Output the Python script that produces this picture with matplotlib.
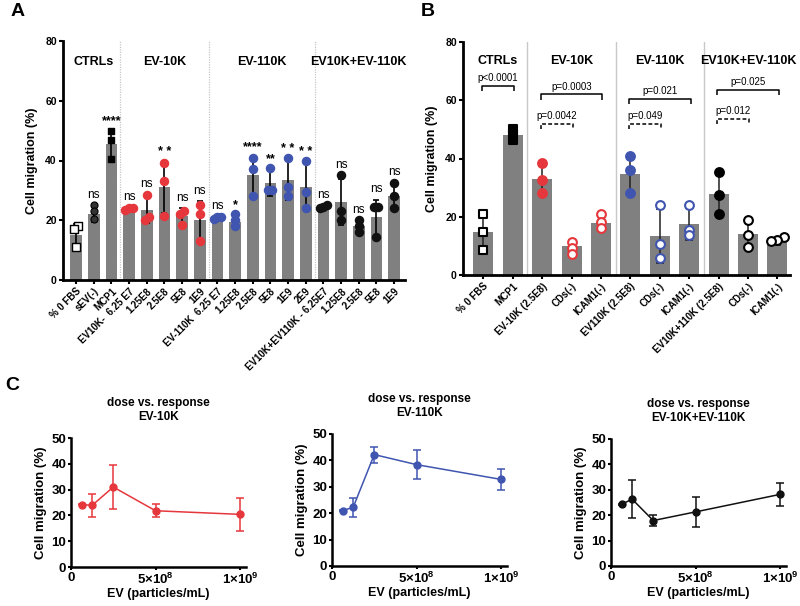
import matplotlib
matplotlib.use("Agg")
import matplotlib.pyplot as plt
import numpy as np

plt.rcParams['font.family'] = ['Liberation Sans', 'DejaVu Sans']
plt.rcParams['font.weight'] = 'bold'
plt.rcParams['axes.labelweight'] = 'bold'
plt.rcParams['mathtext.fontset'] = 'custom'
plt.rcParams['mathtext.rm'] = 'Liberation Sans:bold'
plt.rcParams['mathtext.bf'] = 'Liberation Sans:bold'
plt.rcParams['mathtext.it'] = 'Liberation Sans:bold'

# ---------------- Panel A data ----------------
a_labels = ["% 0 FBS", "sEV(-)", "MCP1", "EV10K-  6.25 E7", "1.25E8", "2.5E8", "5E8", "1E9",
            "EV-110K  6.25 E7", "1.25E8", "2.5E8", "5E8", "1E9", "2E9",
            "EV10K+EV110K - 6.25E7", "1.25E8", "2.5E8", "5E8", "1E9"]
a_means = [15, 22, 45.5, 24, 23.5, 31, 21.5, 20, 21, 19.5, 35, 32.5, 33.5, 31, 24.5, 26, 18, 21, 28]
a_err = [3.8, 2.5, 4.7, 0.3, 4.5, 8.7, 2.6, 6.3, 0.3, 2.0, 6.6, 4.3, 6.8, 8.0, 0.5, 7.7, 2.0, 5.8, 4.3]
a_points = [[18, 17, 11], [25, 23, 20.5], [50, 47, 40.5], [24, 24, 23.5], [28.5, 21, 20],
            [39, 33, 21.5], [23, 22, 18.5], [25, 22, 13], [21, 21, 20.5], [22, 20, 18],
            [41, 37, 28], [37.5, 30, 30], [41, 31, 28], [40, 29.5, 24], [25, 24.5, 24],
            [35, 23, 20], [20, 18, 16], [24.5, 24.5, 14.5], [32.5, 28, 24]]
a_signif = ["", "ns", "****", "ns", "ns", "* *", "ns", "ns", "ns", "*", "****", "**", "* *", "* *",
            "ns", "ns", "ns", "ns", "ns"]
a_groups = ["CTRLs", "EV-10K", "EV-110K", "EV10K+EV-110K"]
a_group_members = [[0, 1, 2], [3, 4, 5, 6, 7], [8, 9, 10, 11, 12, 13], [14, 15, 16, 17, 18]]
a_group_color = ["ctrl", "red", "blue", "black"]

# ---------------- Panel B data ----------------
b_labels = ["% 0 FBS", "MCP1", "EV-10K (2.5E8)", "CDs(-)", "ICAM1(-)", "EV110K (2.5E8)",
            "CDs(-)", "ICAM1(-)", "EV10K+110K (2.5E8)", "CDs(-)", "ICAM1(-)"]
b_means = [14.8, 48, 33, 9.8, 18, 34.8, 13.5, 17.5, 27.8, 14, 11.5]
b_err = [6, 2, 5, 2.2, 2.4, 6.3, 9.3, 5.6, 7.2, 4.6, 1.3]
b_points = [[21, 14.8, 8.6], [50, 48.3, 46.3], [38.5, 32.5, 28.2], [11.3, 9.1, 7.2],
            [20.8, 18.3, 16], [40.8, 36, 28], [24, 10.8, 5.7], [24, 15.4, 13.7],
            [35.4, 27.4, 21.1], [18.8, 13.7, 9.7], [13, 12, 11.6]]
b_groups = ["CTRLs", "EV-10K", "EV-110K", "EV10K+EV-110K"]
b_group_members = [[0, 1], [2, 3, 4], [5, 6, 7], [8, 9, 10]]
b_brackets = [(0, 1, 65, "p<0.0001", "solid"), (2, 4, 62, "p=0.0003", "solid"),
              (2, 3, 52, "p=0.0042", "dashed"), (5, 7, 60.5, "p=0.021", "solid"),
              (5, 6, 52, "p=0.049", "dashed"), (8, 10, 63.5, "p=0.025", "solid"),
              (8, 9, 53.5, "p=0.012", "dashed")]

# ---------------- Panel C data ----------------
c_dose = [6.25e7, 1.25e8, 2.5e8, 5e8, 1e9]
c10_mean = [24.2, 23.9, 31.0, 21.8, 20.4]
c10_err = [0.3, 4.4, 8.7, 2.6, 6.3]
c110_mean = [21.0, 22.2, 42.2, 38.4, 32.8]
c110_err = [0.3, 3.7, 3.0, 5.4, 4.0]
cmix_mean = [24.3, 26.3, 17.9, 21.3, 28.2]
cmix_err = [0.3, 7.4, 2.1, 6.0, 4.5]

RED = "#e5373c"
BLUE = "#3f55b0"
BLACK = "#111111"
BARC = "#808080"
SEP = "#c8c8c8"

W, H = 800, 606
fig = plt.figure(figsize=(8, 6.06), dpi=100)


def ax_px(l, t, r, b):
    return fig.add_axes([l / W, 1 - b / H, (r - l) / W, (b - t) / H])


def style_axes(ax, lw=2.0):
    for s in ["top", "right"]:
        ax.spines[s].set_visible(False)
    for s in ["left", "bottom"]:
        ax.spines[s].set_linewidth(lw)
    ax.tick_params(direction="out", width=1.5, length=3, pad=1.5)


def jitter(vals, step):
    vals = np.asarray(vals, dtype=float)
    order = np.argsort(vals)
    offs = np.zeros(len(vals))
    clusters = []
    cur = [order[0]]
    for i in order[1:]:
        if vals[i] - vals[cur[-1]] < 1.6:
            cur.append(i)
        else:
            clusters.append(cur)
            cur = [i]
    clusters.append(cur)
    for c in clusters:
        k = len(c)
        for j, idx in enumerate(c):
            offs[idx] = (j - (k - 1) / 2) * step
    return offs


# ================= Panel A =================
axA = ax_px(63, 41, 405, 280)
style_axes(axA)
xa = np.arange(len(a_means))
axA.bar(xa, a_means, width=0.66, color=BARC, zorder=1)
axA.set_xlim(-0.74, 18.62)
axA.set_ylim(0, 80)
axA.set_yticks([0, 20, 40, 60, 80])
axA.tick_params(axis="y", labelsize=7.5)
axA.set_xticks(xa)
axA.set_xticklabels(a_labels, rotation=45, ha="right", rotation_mode="anchor", fontsize=7)
axA.set_ylabel("Cell migration (%)", fontsize=9, labelpad=5)

gcolor = {"red": RED, "blue": BLUE, "black": BLACK}
for gi, members in enumerate(a_group_members):
    for i in members:
        pts = a_points[i]
        axA.errorbar(i, a_means[i], yerr=a_err[i], fmt="none", ecolor="black",
                     elinewidth=1.2, capsize=2.5, capthick=1.2, zorder=2)
        offs = jitter(pts, 0.22)
        if a_group_color[gi] == "ctrl":
            if i == 0:
                axA.scatter(i + offs, pts, marker="s", s=26, facecolor="white",
                            edgecolor="black", linewidth=1.0, zorder=3)
            elif i == 1:
                axA.scatter(i + offs, pts, marker="o", s=26, facecolor="#333333",
                            edgecolor="black", linewidth=0.8, zorder=3)
            else:
                axA.scatter(i + offs, pts, marker="s", s=22, facecolor="black",
                            edgecolor="black", zorder=3)
        else:
            c = gcolor[a_group_color[gi]]
            axA.scatter(i + offs, pts, marker="o", s=34, facecolor=c, edgecolor=c, zorder=3)
        top = max(max(pts), a_means[i] + a_err[i])
        if a_signif[i]:
            if "*" in a_signif[i]:
                axA.text(i, top + 1.0, a_signif[i], ha="center", va="bottom", fontsize=9,
                         fontweight="bold")
            else:
                axA.text(i, top + 1.5, a_signif[i], ha="center", va="bottom", fontsize=8.5,
                         fontweight="normal")
    axA.text(np.mean(members), 73, a_groups[gi], ha="center", va="center", fontsize=9,
             fontweight="bold")
for gi in range(len(a_group_members) - 1):
    xs = (a_group_members[gi][-1] + a_group_members[gi + 1][0]) / 2
    axA.axvline(xs, color=SEP, lw=0.9, ls=(0, (1, 1)), zorder=0)

# ================= Panel B =================
axB = ax_px(463, 42, 790, 275)
style_axes(axB)
xb = np.arange(len(b_means))
axB.bar(xb, b_means, width=0.68, color=BARC, zorder=1)
axB.set_xlim(-0.69, 10.43)
axB.set_ylim(0, 80)
axB.set_yticks([0, 20, 40, 60, 80])
axB.tick_params(axis="y", labelsize=7.5)
axB.set_xticks(xb)
axB.set_xticklabels(b_labels, rotation=45, ha="right", rotation_mode="anchor", fontsize=7)
axB.set_ylabel("Cell migration (%)", fontsize=9, labelpad=5)

b_style = [("s", "white", "black"), ("s", "black", "black"), ("o", RED, RED), ("o", "white", RED),
           ("o", "white", RED), ("o", BLUE, BLUE), ("o", "white", BLUE), ("o", "white", BLUE),
           ("o", "black", "black"), ("o", "white", "black"), ("o", "white", "black")]
for i in xb:
    pts = b_points[i]
    axB.errorbar(i, b_means[i], yerr=b_err[i], fmt="none", ecolor="#222222",
                 elinewidth=1.1, capsize=3, capthick=1.1, zorder=2)
    m, fc, ec = b_style[i]
    offs = jitter(pts, 0.22)
    axB.scatter(i + offs, pts, marker=m, s=40, facecolor=fc, edgecolor=ec,
                linewidth=1.5, zorder=3)
for gi, members in enumerate(b_group_members):
    axB.text(np.mean(members), 73.5, b_groups[gi], ha="center", va="center", fontsize=9,
             fontweight="bold")
for gi in range(len(b_group_members) - 1):
    xs = (b_group_members[gi][-1] + b_group_members[gi + 1][0]) / 2
    axB.axvline(xs, color=SEP, lw=1.0, zorder=0)
for (i0, i1, y, txt, ls) in b_brackets:
    x0, x1 = i0 - 0.05, i1 + 0.05
    lsx = "-" if ls == "solid" else (0, (2.5, 1.5))
    axB.plot([x0, x0, x1, x1], [y - 1.8, y, y, y - 1.8], color="black", lw=1.1, ls=lsx,
             solid_capstyle="butt")
    axB.text((x0 + x1) / 2, y + 1.0, txt, ha="center", va="bottom", fontsize=7,
             fontweight="normal")

# ================= Panel C =================
def dose_panel(l, t, b, means, errs, color, title):
    ax = ax_px(l, t, l + 175, b)
    style_axes(ax, lw=1.8)
    ax.tick_params(length=2.5, pad=1)
    ax.errorbar(c_dose, means, yerr=errs, color=color, lw=1.1, marker="o", ms=5,
                elinewidth=1.1, capsize=3, capthick=1.1)
    ax.set_xlim(0, 1.035e9)
    ax.set_ylim(0, 50)
    ax.set_yticks([0, 10, 20, 30, 40, 50])
    ax.set_xticks([0, 5e8, 1e9])
    ax.set_xticklabels(["0", r"$5{\times}10^{8}$", r"$1{\times}10^{9}$"])
    ax.tick_params(labelsize=9.5)
    ax.set_xlabel("EV (particles/mL)", fontsize=9, labelpad=1)
    ax.set_ylabel("Cell migration (%)", fontsize=9.5, labelpad=3)
    ax.set_title(title, fontsize=8.5, fontweight="bold", pad=13)
    return ax

dose_panel(71, 438, 567, c10_mean, c10_err, RED, "dose vs. response\nEV-10K")
dose_panel(332, 434, 566, c110_mean, c110_err, BLUE, "dose vs. response\nEV-110K")
dose_panel(611, 439, 566, cmix_mean, cmix_err, BLACK, "dose vs. response\nEV-10K+EV-110K")

fig.text(18 / W, 1 - 12 / H, "A", fontsize=14, fontweight="bold", va="center", ha="center")
fig.text(428 / W, 1 - 12 / H, "B", fontsize=14, fontweight="bold", va="center", ha="center")
fig.text(12 / W, 1 - 386 / H, "C", fontsize=14, fontweight="bold", va="center", ha="center")

fig.savefig("out.png", dpi=100)
